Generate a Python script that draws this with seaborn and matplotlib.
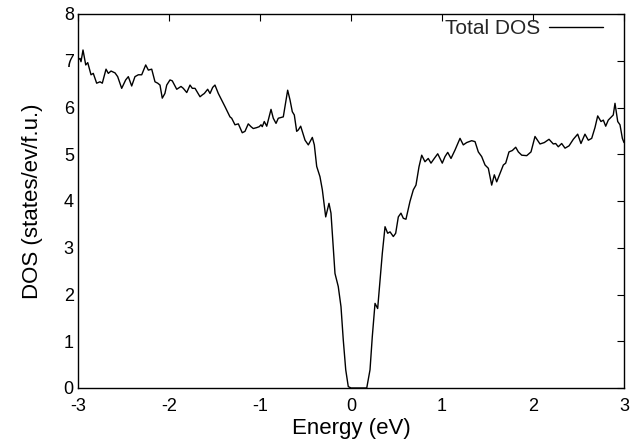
import numpy as np
import pandas as pd
import matplotlib
matplotlib.use("Agg")
import matplotlib.pyplot as plt
import seaborn as sns

# values
energy = [
    -3.000, -2.978, -2.967, -2.945, -2.915, -2.893, -2.857, -2.832, -2.795, -2.758,
    -2.733, -2.692, -2.667, -2.637, -2.593, -2.564, -2.520, -2.476, -2.447, -2.410,
    -2.374, -2.337, -2.300, -2.256, -2.227, -2.190, -2.154, -2.124, -2.099, -2.074,
    -2.045, -2.025, -1.989, -1.964, -1.915, -1.868, -1.843, -1.805, -1.769, -1.744,
    -1.714, -1.659, -1.634, -1.612, -1.575, -1.549, -1.520, -1.495, -1.458, -1.385,
    -1.330, -1.311, -1.275, -1.238, -1.195, -1.165, -1.129, -1.099, -1.074, -1.036,
    -1.008, -0.989, -0.975, -0.953, -0.926, -0.879, -0.854, -0.824, -0.799, -0.744,
    -0.696, -0.670, -0.645, -0.623, -0.597, -0.579, -0.553, -0.505, -0.469, -0.425,
    -0.403, -0.377, -0.341, -0.315, -0.278, -0.242, -0.220, -0.195, -0.176, -0.140,
    -0.110, -0.085, -0.058, -0.030, 0.000, 0.173, 0.209, 0.234, 0.264, 0.293,
    0.319, 0.344, 0.374, 0.403, 0.429, 0.465, 0.491, 0.520, 0.549, 0.575,
    0.604, 0.648, 0.685, 0.714, 0.747, 0.777, 0.813, 0.849, 0.879, 0.915,
    0.953, 0.978, 1.003, 1.033, 1.063, 1.099, 1.143, 1.198, 1.234, 1.271,
    1.326, 1.363, 1.399, 1.436, 1.473, 1.509, 1.546, 1.575, 1.601, 1.637,
    1.674, 1.700, 1.736, 1.773, 1.810, 1.839, 1.876, 1.931, 1.978, 2.022,
    2.077, 2.124, 2.176, 2.223, 2.249, 2.278, 2.315, 2.352, 2.396, 2.443,
    2.491, 2.527, 2.571, 2.608, 2.645, 2.681, 2.711, 2.747, 2.773, 2.799,
    2.827, 2.857, 2.882, 2.901, 2.931, 2.956, 2.982, 3.000,
]
dos = [
    7.02, 7.05, 6.98, 7.23, 6.91, 6.96, 6.70, 6.73, 6.52, 6.55,
    6.52, 6.82, 6.73, 6.78, 6.74, 6.66, 6.41, 6.59, 6.66, 6.46,
    6.66, 6.70, 6.70, 6.91, 6.80, 6.82, 6.55, 6.52, 6.48, 6.20,
    6.30, 6.48, 6.59, 6.57, 6.39, 6.45, 6.41, 6.32, 6.48, 6.41,
    6.41, 6.23, 6.27, 6.30, 6.39, 6.30, 6.43, 6.48, 6.30, 6.02,
    5.80, 5.77, 5.63, 5.65, 5.46, 5.49, 5.65, 5.59, 5.55, 5.57,
    5.59, 5.63, 5.59, 5.70, 5.60, 5.96, 5.77, 5.66, 5.77, 5.80,
    6.37, 6.16, 5.91, 5.84, 5.49, 5.52, 5.60, 5.30, 5.20, 5.36,
    5.20, 4.74, 4.52, 4.24, 3.66, 3.95, 3.74, 3.02, 2.45, 2.17,
    1.74, 1.03, 0.39, 0.03, 0.00, 0.00, 0.39, 1.10, 1.81, 1.70,
    2.31, 2.88, 3.45, 3.31, 3.34, 3.24, 3.31, 3.66, 3.74, 3.63,
    3.61, 3.99, 4.24, 4.34, 4.73, 4.98, 4.84, 4.91, 4.81, 4.91,
    5.01, 4.91, 4.81, 4.95, 5.04, 4.91, 5.09, 5.34, 5.20, 5.25,
    5.29, 5.27, 5.05, 4.95, 4.77, 4.70, 4.34, 4.56, 4.41, 4.59,
    4.77, 4.81, 5.05, 5.08, 5.15, 5.05, 4.98, 4.97, 5.05, 5.38,
    5.22, 5.25, 5.32, 5.22, 5.23, 5.16, 5.23, 5.13, 5.18, 5.32,
    5.43, 5.23, 5.43, 5.30, 5.34, 5.57, 5.82, 5.70, 5.73, 5.60,
    5.73, 5.79, 5.84, 6.09, 5.70, 5.63, 5.34, 5.25,
]
x_ticks = [-3, -2, -1, 0, 1, 2, 3]
y_ticks = [0, 1, 2, 3, 4, 5, 6, 7, 8]

df = pd.DataFrame({"Energy": energy, "DOS": dos})

sns.set_theme(style="white")
plt.rcParams["font.family"] = ["Liberation Sans", "DejaVu Sans"]
plt.rcParams["axes.unicode_minus"] = False

fig = plt.figure(figsize=(6.39, 4.45), dpi=100)
ax = fig.add_axes([78 / 639, 1 - 388 / 445, 546 / 639, 374 / 445])

sns.lineplot(data=df, x="Energy", y="DOS", ax=ax, color="black", linewidth=1.0,
             sort=False, estimator=None, label="Total DOS")

ax.set_xlim(-3, 3)
ax.set_ylim(0, 8)
ax.set_xticks(x_ticks)
ax.set_yticks(y_ticks)
ax.set_xlabel("Energy (eV)", fontsize=16, color="black", labelpad=2)
ax.set_ylabel("DOS (states/ev/f.u.)", fontsize=16, color="black", labelpad=15)
ax.tick_params(direction="in", length=5, width=0.8, top=True, right=True,
               labelsize=13, colors="black")
ax.tick_params(axis="x", pad=7.5)
ax.tick_params(axis="y", pad=3)
for s in ax.spines.values():
    s.set_visible(True)
    s.set_color("black")
    s.set_linewidth(1.0)

# legend text on the left, line sample on the right (gnuplot style)
leg = ax.legend(loc="upper right", bbox_to_anchor=(0.977, 1.008), frameon=False,
                markerfirst=False, handlelength=2.6, fontsize=15,
                borderaxespad=0, handletextpad=0.4)

fig.savefig("out.png", dpi=100)
